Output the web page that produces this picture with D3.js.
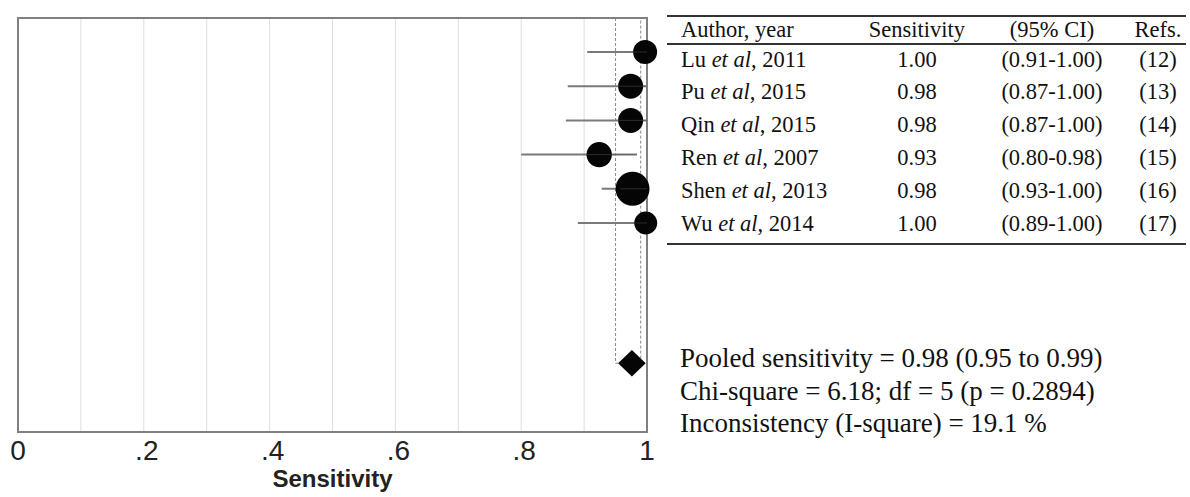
<!DOCTYPE html>
<html>
<head>
<meta charset="utf-8">
<script src="https://cdn.jsdelivr.net/npm/d3@7/dist/d3.min.js"></script>
<style>
  html, body { margin: 0; padding: 0; background: #fff; }
  svg { display: block; }
</style>
</head>
<body>
<svg id="chart" width="1190" height="497"></svg>
<script>
// ---------------- data ----------------
const authors   = ["Lu", "Pu", "Qin", "Ren", "Shen", "Wu"];
const years     = ["2011", "2015", "2015", "2007", "2013", "2014"];
const estimates = [0.997, 0.974, 0.974, 0.924, 0.977, 0.998];   // plotted point estimates
const ciLow     = [0.905, 0.874, 0.871, 0.800, 0.928, 0.890];
const ciHigh    = [1.000, 1.000, 1.000, 0.984, 1.000, 1.000];
const weights   = [144, 156, 156, 161, 289, 132];              // relative study weights (marker area)
const sensText  = ["1.00", "0.98", "0.98", "0.93", "0.98", "1.00"];
const ciText    = ["(0.91-1.00)", "(0.87-1.00)", "(0.87-1.00)", "(0.80-0.98)", "(0.93-1.00)", "(0.89-1.00)"];
const refsText  = ["(12)", "(13)", "(14)", "(15)", "(16)", "(17)"];
const headers   = ["Author, year", "Sensitivity", "(95% CI)", "Refs."];
const pooled    = { est: 0.976, low: 0.95, high: 0.99 };
const xTicks    = [0, 0.2, 0.4, 0.6, 0.8, 1];
const xTickLabels = ["0", ".2", ".4", ".6", ".8", "1"];
const gridValues  = [0.1, 0.2, 0.3, 0.4, 0.5, 0.6, 0.7, 0.8, 0.9];
const summaryLines = [
  "Pooled sensitivity = 0.98 (0.95 to 0.99)",
  "Chi-square = 6.18; df = 5 (p = 0.2894)",
  "Inconsistency (I-square) = 19.1 %"
];
const pooledRow = 9.1;

// ---------------- layout ----------------
const svg = d3.select("#chart");
const plot = { left: 18, right: 647, top: 18, bottom: 432 };

const x = d3.scaleLinear().domain([0, 1]).range([plot.left, plot.right]);
const y = d3.scaleLinear().domain([0, 1]).range([52, 86.2]);
const rowText = d3.scaleLinear().domain([0, 1]).range([66.5, 99.4]);  // table text baselines
const r = d3.scaleSqrt().domain([0, 289]).range([0, 17]);

const serif = "'Liberation Serif', 'Times New Roman', serif";
const sans  = "'Liberation Sans', Arial, sans-serif";

// gridlines
svg.append("g").selectAll("line").data(gridValues).join("line")
  .attr("x1", d => x(d)).attr("x2", d => x(d))
  .attr("y1", plot.top).attr("y2", plot.bottom)
  .attr("stroke", "#dedede").attr("stroke-width", 1);

// dashed pooled CI lines
const dashG = svg.append("g")
  .attr("stroke", "#8a8a8a").attr("stroke-width", 1)
  .attr("stroke-dasharray", "3,2").attr("fill", "none");
dashG.append("path")
  .attr("d", `M${x(pooled.low)},${plot.top} V${y(pooledRow)} H${x(pooled.high)} V${plot.top}`);

// frame
svg.append("rect")
  .attr("x", plot.left).attr("y", plot.top)
  .attr("width", plot.right - plot.left).attr("height", plot.bottom - plot.top)
  .attr("fill", "none").attr("stroke", "#808080").attr("stroke-width", 2);

// CI lines
const idx = d3.range(authors.length);
svg.append("g").selectAll("line").data(idx).join("line")
  .attr("x1", i => x(ciLow[i])).attr("x2", i => x(ciHigh[i]))
  .attr("y1", i => y(i)).attr("y2", i => y(i))
  .attr("stroke", "#7a7a7a").attr("stroke-width", 2);

// study markers
svg.append("g").selectAll("circle").data(idx).join("circle")
  .attr("cx", i => x(estimates[i])).attr("cy", i => y(i))
  .attr("r", i => r(weights[i]))
  .attr("fill", "#050505");

// CI lines faint over markers
svg.append("g").selectAll("line").data(idx).join("line")
  .attr("x1", i => x(Math.max(ciLow[i], estimates[i] - 0.02))).attr("x2", i => x(ciHigh[i]))
  .attr("y1", i => y(i)).attr("y2", i => y(i))
  .attr("stroke", "#555").attr("stroke-width", 1).attr("opacity", 0.5);

// pooled diamond
const dh = 13.3, dwx = 13.8;
const pcx = x(pooled.est), pcy = y(pooledRow);
svg.append("path")
  .attr("d", `M${pcx - dwx},${pcy} L${pcx},${pcy - dh} L${pcx + dwx},${pcy} L${pcx},${pcy + dh} Z`)
  .attr("fill", "#050505");

// x axis labels
svg.append("g").selectAll("text").data(xTicks).join("text")
  .attr("x", (d, i) => x(d) + (xTickLabels[i].startsWith(".") ? 3 : 0))
  .attr("y", 460)
  .attr("text-anchor", "middle")
  .attr("font-family", sans).attr("font-size", 28).attr("fill", "#222")
  .text((d, i) => xTickLabels[i]);

svg.append("text")
  .attr("x", (plot.left + plot.right) / 2).attr("y", 487)
  .attr("text-anchor", "middle")
  .attr("font-family", sans).attr("font-size", 24).attr("font-weight", "bold").attr("fill", "#222")
  .text("Sensitivity");

// ---------------- table ----------------
const tbl = svg.append("g").attr("font-family", serif).attr("font-size", 22.5).attr("fill", "#111");
const tLeft = 667, tRight = 1186;
const colX = { author: 681, sens: 917, ci: 1052, refs: 1158 };

[16, 44, 244].forEach(yy => {
  tbl.append("line").attr("x1", tLeft).attr("x2", tRight).attr("y1", yy).attr("y2", yy)
    .attr("stroke", "#333").attr("stroke-width", 2);
});

tbl.append("text").attr("x", colX.author).attr("y", 37).text(headers[0]);
tbl.append("text").attr("x", colX.sens).attr("y", 37).attr("text-anchor", "middle").text(headers[1]);
tbl.append("text").attr("x", colX.ci).attr("y", 37).attr("text-anchor", "middle").text(headers[2]);
tbl.append("text").attr("x", colX.refs).attr("y", 37).attr("text-anchor", "middle").text(headers[3]);

idx.forEach(i => {
  const by = rowText(i);
  const t = tbl.append("text").attr("x", colX.author).attr("y", by);
  t.append("tspan").text(authors[i] + " ");
  t.append("tspan").attr("font-style", "italic").text("et al");
  t.append("tspan").text(", " + years[i]);
  tbl.append("text").attr("x", colX.sens).attr("y", by).attr("text-anchor", "middle").text(sensText[i]);
  tbl.append("text").attr("x", colX.ci).attr("y", by).attr("text-anchor", "middle").text(ciText[i]);
  tbl.append("text").attr("x", colX.refs).attr("y", by).attr("text-anchor", "middle").text(refsText[i]);
});

// summary text
svg.append("g").attr("font-family", serif).attr("font-size", 27).attr("fill", "#111")
  .selectAll("text").data(summaryLines).join("text")
  .attr("x", 680).attr("y", (d, i) => 367 + i * 32.5)
  .text(d => d);
</script>
</body>
</html>
